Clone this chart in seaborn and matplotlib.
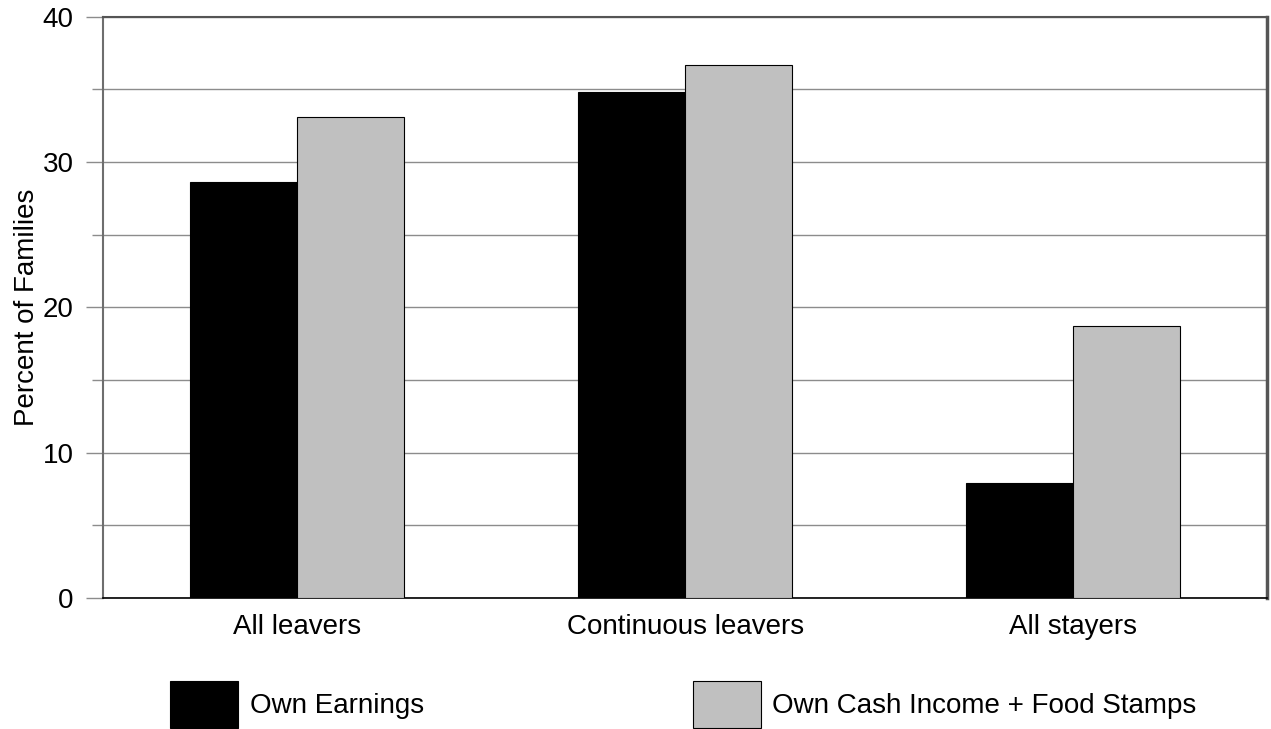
import matplotlib
matplotlib.use("Agg")
import matplotlib.pyplot as plt
import seaborn as sns
import pandas as pd
from matplotlib.ticker import MultipleLocator

categories = ["All leavers", "Continuous leavers", "All stayers"]
series_names = ["Own Earnings", "Own Cash Income + Food Stamps"]
own_earnings = [28.6, 34.85, 7.9]
cash_plus_food_stamps = [33.1, 36.7, 18.7]
series_colors = ["#000000", "#c0c0c0"]

df = pd.DataFrame({
    "category": categories * 2,
    "series": [series_names[0]] * 3 + [series_names[1]] * 3,
    "value": own_earnings + cash_plus_food_stamps,
})

sns.set_theme(style="white")
plt.rcParams["font.family"] = ["Liberation Sans", "DejaVu Sans"]
plt.rcParams["text.color"] = "black"
plt.rcParams["axes.labelcolor"] = "black"
plt.rcParams["xtick.color"] = "black"
plt.rcParams["ytick.color"] = "black"

FS = 20

fig = plt.figure(figsize=(12.71, 7.29), dpi=100)
ax = fig.add_axes([0.081, 0.180, 0.916, 0.797])

sns.barplot(data=df, x="category", y="value", hue="series",
            palette=series_colors, width=0.55, edgecolor="black",
            linewidth=0.8, saturation=1, ax=ax, zorder=3)

ax.set_xlim(-0.5, 2.5)
ax.set_ylim(0, 40)
ax.yaxis.set_major_locator(MultipleLocator(10))
ax.yaxis.set_minor_locator(MultipleLocator(5))
ax.grid(True, which="both", axis="y", color="#8c8c8c", linewidth=1.0, zorder=0)
ax.set_axisbelow(True)

ax.tick_params(axis="y", which="major", length=12, width=1.0, color="#8c8c8c",
               labelsize=FS, pad=9, left=True, labelcolor="black")
ax.tick_params(axis="y", which="minor", length=8, width=1.0, color="#8c8c8c", left=True)
ax.tick_params(axis="x", length=0, labelsize=FS, pad=12, labelcolor="black")

ax.set_xlabel("")
ax.set_ylabel("Percent of Families", fontsize=FS, labelpad=2, color="black")

ax.spines["left"].set_color("#6e6e6e")
ax.spines["left"].set_linewidth(1.5)
ax.spines["top"].set_color("#555555")
ax.spines["top"].set_linewidth(1.5)
ax.spines["right"].set_color("#555555")
ax.spines["right"].set_linewidth(2.5)
ax.spines["bottom"].set_color("black")
ax.spines["bottom"].set_linewidth(1.2)
for s in ax.spines.values():
    s.set_visible(True)

handles, labels = ax.get_legend_handles_labels()
ax.legend_.remove()
fig.legend(handles, labels, loc="lower left", bbox_to_anchor=(0.133, 0.0),
           ncol=2, frameon=False, fontsize=FS, handlelength=2.45, handleheight=2.2,
           handletextpad=0.4, columnspacing=9.7, borderaxespad=0, borderpad=0.05,
           labelcolor="black")

fig.savefig("out.png", dpi=100)
